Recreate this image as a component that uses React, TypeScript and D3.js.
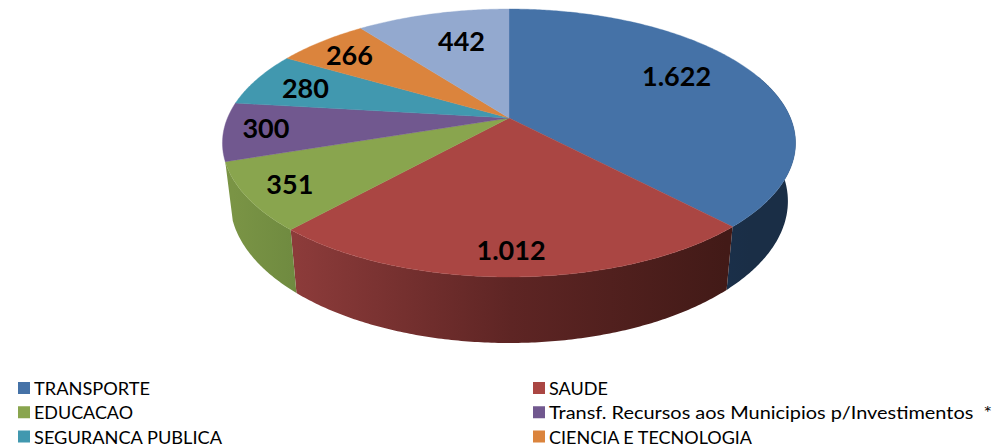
import React from 'react';
import * as d3 from 'd3';

const values = [1622, 1012, 351, 300, 280, 266, 442];
const valueLabels = ['1.622', '1.012', '351', '300', '280', '266', '442'];
const legendNames = ['TRANSPORTE', 'SAUDE', 'EDUCACAO', 'Transf. Recursos aos Municipios p/Investimentos  *', 'SEGURANCA PUBLICA', 'CIENCIA E TECNOLOGIA'];
const legendWidths = [116, 59, 99, 443, 188, 203];
const topColors = ['#4572a7', '#aa4643', '#89a54e', '#71588f', '#4198af', '#db843d', '#93a9cf'];
// side wall shading, left to right
const sideColors = [
  ['#1a2f49', '#1a2e46'],
  ['#8c3b3a', '#5e2524', '#421a17'],
  ['#7a9445', '#6f8a40'],
];
// hand nudges for the data labels, px from the 0.75 radius anchor
const labelNudge = [[-19, -8], [-1, 19], [-28, 8], [-30, -1], [-12, -1], [-15, -5], [12, 4]];

const cx = 509;
const persp = -0.1866; // perspective squeeze front to back

// unit disc to screen, top rim and bottom rim of the pie
const rimTop = (r: number, t: number): [number, number] => {
  const u = r * Math.sin(t), v = -r * Math.cos(t), d = 1 + persp * v;
  return [cx + (281.5 * u) / d, (107.3 * v + 118) / d];
};
const rimBottom = (t: number): [number, number] => {
  const u = Math.sin(t), v = -Math.cos(t), d = 1 + persp * v;
  return [cx + (274 * u) / d, (104.3 * v + 174.7) / d];
};

const slices = d3.pie<number>().sort(null)(values);
const line = d3.line();

const arcAngles = (a: number, b: number) => {
  const n = Math.max(2, Math.ceil((b - a) / 0.01));
  return d3.range(n + 1).map((i) => a + ((b - a) * i) / n);
};

const sideMin = (70 * Math.PI) / 180;

const legendX = d3.scaleOrdinal<number, number>().domain([0, 1]).range([18, 533]);
const legendY = d3.scalePoint<number>().domain([0, 1, 2]).range([388, 436.5]);

export default function App() {
  // only the first three slices show a wall, the rest sit behind the top face
  const sides = slices.slice(0, 3).map((s, i) => ({ i, a: Math.max(s.startAngle, sideMin), b: s.endAngle }));

  return (
    <svg width={1007} height={447} style={{ position: 'absolute', left: 0, top: 0, background: '#fff' }}>
      <defs>
        {sides.map(({ i, a, b }) => {
          const xs = [rimBottom(a)[0], rimBottom(b)[0]];
          return (
            <linearGradient key={i} id={`side${i}`} gradientUnits="userSpaceOnUse" x1={d3.min(xs)} x2={d3.max(xs)} y1={0} y2={0}>
              {sideColors[i].map((c, k, arr) => (
                <stop key={k} offset={k / (arr.length - 1)} stopColor={c} />
              ))}
            </linearGradient>
          );
        })}
      </defs>

      {sides.map(({ i, a, b }) => {
        const angles = arcAngles(a, b);
        const pts = [...angles.map((t) => rimTop(1, t)), ...angles.slice().reverse().map(rimBottom)];
        return <path key={i} d={`${line(pts)}Z`} fill={`url(#side${i})`} />;
      })}

      {slices.map((s, i) => {
        const pts = [rimTop(0, 0), ...arcAngles(s.startAngle, s.endAngle).map((t) => rimTop(1, t))];
        return <path key={i} d={`${line(pts)}Z`} fill={topColors[i]} stroke={topColors[i]} strokeWidth={0.4} />;
      })}

      {slices.map((s, i) => {
        const [x, y] = rimTop(0.75, (s.startAngle + s.endAngle) / 2);
        return (
          <text key={i} x={x + labelNudge[i][0]} y={y + labelNudge[i][1]} textAnchor="middle" dominantBaseline="central"
            fontFamily="Lato" fontWeight={700} fontSize={27} fill="#000">
            {valueLabels[i]}
          </text>
        );
      })}

      {legendNames.map((name, i) => {
        const x = legendX(i % 2);
        const y = legendY(Math.floor(i / 2)) as number;
        return (
          <g key={name}>
            <rect x={x} y={y - 6} width={12} height={12} fill={topColors[i]} />
            <text x={x + 16} y={y} dominantBaseline="central" fontFamily="Lato" fontSize={18} fill="#000"
              textLength={legendWidths[i]} lengthAdjust="spacingAndGlyphs" style={{ whiteSpace: 'pre' }}>
              {name}
            </text>
          </g>
        );
      })}
    </svg>
  );
}
